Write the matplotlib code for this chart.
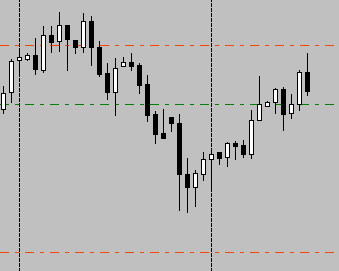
import numpy as np
import matplotlib
matplotlib.use("Agg")
import matplotlib.pyplot as plt

# OHLC of each bar (price units)
opens = [1.3162, 1.3179, 1.3211, 1.3212, 1.3216, 1.3201, 1.3236, 1.3230, 1.3246, 1.3231,
         1.3224, 1.3250, 1.3224, 1.3198, 1.3179, 1.3205, 1.3209, 1.3206, 1.3187, 1.3157,
         1.3138, 1.3154, 1.3148, 1.3097, 1.3084, 1.3097, 1.3112, 1.3119, 1.3114, 1.3128,
         1.3126, 1.3117, 1.3151, 1.3165, 1.3169, 1.3182, 1.3158, 1.3167, 1.3199]
highs = [1.3185, 1.3212, 1.3221, 1.3218, 1.3233, 1.3245, 1.3245, 1.3259, 1.3246, 1.3231,
         1.3258, 1.3255, 1.3230, 1.3208, 1.3213, 1.3214, 1.3218, 1.3208, 1.3196, 1.3160,
         1.3162, 1.3154, 1.3157, 1.3113, 1.3101, 1.3119, 1.3119, 1.3119, 1.3129, 1.3130,
         1.3131, 1.3161, 1.3195, 1.3170, 1.3183, 1.3184, 1.3177, 1.3201, 1.3218]
lows = [1.3158, 1.3169, 1.3198, 1.3211, 1.3197, 1.3199, 1.3219, 1.3220, 1.3201, 1.3218,
        1.3219, 1.3206, 1.3195, 1.3172, 1.3156, 1.3205, 1.3201, 1.3178, 1.3150, 1.3128,
        1.3133, 1.3140, 1.3061, 1.3059, 1.3065, 1.3091, 1.3083, 1.3107, 1.3105, 1.3112,
        1.3114, 1.3113, 1.3151, 1.3165, 1.3158, 1.3141, 1.3153, 1.3161, 1.3176]
closes = [1.3178, 1.3210, 1.3214, 1.3216, 1.3202, 1.3236, 1.3229, 1.3246, 1.3232, 1.3224,
          1.3250, 1.3224, 1.3197, 1.3179, 1.3203, 1.3209, 1.3205, 1.3186, 1.3156, 1.3137,
          1.3133, 1.3148, 1.3097, 1.3084, 1.3098, 1.3112, 1.3117, 1.3113, 1.3128, 1.3125,
          1.3117, 1.3151, 1.3167, 1.3169, 1.3182, 1.3157, 1.3167, 1.3199, 1.3180]

# horizontal levels and day separators (bar index)
level_top = 1.3226
level_mid = 1.3167
level_bottom = 1.3019
separators = [2, 26]

opens, highs, lows, closes = map(np.array, (opens, highs, lows, closes))
x = np.arange(len(opens))

fig = plt.figure(figsize=(3.39, 2.71), dpi=100)
ax = fig.add_axes([0, 0, 1, 1])
ax.set_facecolor("#c0c0c0")
fig.patch.set_facecolor("#c0c0c0")

px = 0.72  # one pixel in points at 100 dpi

# wicks
ax.vlines(x, lows, highs, color="black", lw=px, antialiased=False, zorder=2)

# bodies
up = closes >= opens
body_lo = np.minimum(opens, closes)
body_h = np.maximum(np.abs(closes - opens), 0.00005)
ax.bar(x[up], body_h[up], bottom=body_lo[up], width=0.5, color="white",
       edgecolor="black", linewidth=px, antialiased=False, zorder=3)
ax.bar(x[~up], body_h[~up], bottom=body_lo[~up], width=0.5, color="black",
       edgecolor="black", linewidth=px, antialiased=False, zorder=3)

# levels
dashdot = (0, (9, 6, 3, 6))
ax.axhline(level_top, color="#ff4500", lw=px, ls=dashdot, antialiased=False, zorder=1)
ax.axhline(level_mid, color="#008000", lw=px, ls=dashdot, antialiased=False, zorder=1)
ax.axhline(level_bottom, color="#ff4500", lw=px, ls=dashdot, antialiased=False, zorder=1)

for s in separators:
    ax.axvline(s, color="black", lw=px, ls=(0, (3, 2)), antialiased=False, zorder=1)

ax.set_xlim(-0.4375, 41.94)
ax.set_ylim(1.3000, 1.3271)
ax.set_xticks([])
ax.set_yticks([])
for sp in ax.spines.values():
    sp.set_visible(False)

fig.savefig("out.png", dpi=100, facecolor=fig.get_facecolor())
